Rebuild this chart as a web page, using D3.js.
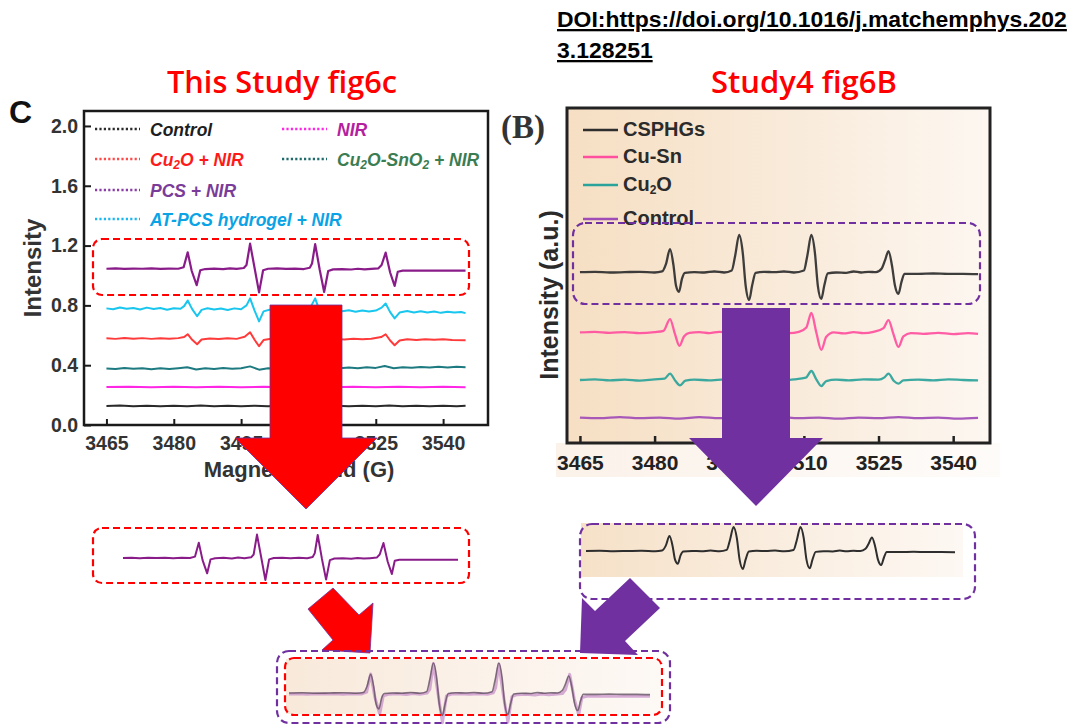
<!DOCTYPE html>
<html>
<head>
<meta charset="utf-8">
<script src="https://cdn.jsdelivr.net/npm/d3@7/dist/d3.min.js"></script>
<style>
  html, body { margin: 0; padding: 0; background: #ffffff; }
  svg { display: block; }
</style>
</head>
<body>
<svg id="chart" width="1080" height="726"></svg>
<script>
// ---------------- DATA ----------------
const fieldTicks = [3465, 3480, 3495, 3510, 3525, 3540];
const intensityTicks = [0, 0.4, 0.8, 1.2, 1.6, 2.0];

// Left panel (This Study fig6c) series: [field (G), intensity]
const controlA = [[3465,0.127],[3468,0.13],[3471,0.126],[3474,0.129],[3477,0.125],[3480,0.129],[3483,0.126],[3486,0.13],[3489,0.126],[3492,0.129],[3495,0.125],[3498,0.129],[3501,0.126],[3504,0.13],[3507,0.126],[3510,0.129],[3513,0.126],[3516,0.129],[3519,0.125],[3522,0.129],[3525,0.126],[3528,0.13],[3531,0.126],[3534,0.129],[3537,0.126],[3540,0.129],[3543,0.126],[3545,0.128]];
const nirA = [[3465,0.254],[3470,0.256],[3475,0.252],[3480,0.255],[3485,0.252],[3490,0.256],[3495,0.253],[3500,0.255],[3505,0.252],[3510,0.256],[3515,0.253],[3520,0.255],[3525,0.252],[3530,0.255],[3535,0.253],[3540,0.255],[3545,0.252]];
const cu2oSno2NirA = [[3465,0.378],[3467,0.374],[3469,0.381],[3471,0.376],[3473,0.38],[3475,0.373],[3477,0.379],[3479,0.375],[3481,0.38],[3483,0.386],[3485,0.371],[3487,0.379],[3489,0.375],[3491,0.381],[3493,0.376],[3495,0.38],[3497,0.392],[3499,0.37],[3501,0.38],[3503,0.377],[3505,0.382],[3507,0.378],[3509,0.383],[3511.5,0.393],[3513.5,0.374],[3515,0.383],[3517,0.379],[3519,0.385],[3521,0.38],[3523,0.386],[3525,0.382],[3527,0.394],[3529,0.379],[3531,0.387],[3533,0.383],[3535,0.388],[3537,0.384],[3539,0.389],[3541,0.385],[3543,0.389],[3545,0.387]];
const cu2oNirA = [[3465,0.58],[3467,0.576],[3469,0.582],[3471,0.577],[3473,0.581],[3475,0.576],[3477,0.58],[3479,0.577],[3481,0.581],[3482.3,0.588],[3483.1,0.607],[3484.1,0.57],[3485.2,0.54],[3486.2,0.572],[3488,0.579],[3490,0.575],[3492,0.58],[3494,0.576],[3495.8,0.59],[3497,0.62],[3498,0.57],[3499,0.527],[3500,0.568],[3502,0.578],[3504,0.574],[3506,0.579],[3508,0.575],[3510.4,0.59],[3511.5,0.618],[3512.5,0.57],[3513.5,0.53],[3514.5,0.566],[3516,0.576],[3518,0.572],[3520,0.577],[3522,0.573],[3524,0.577],[3526.2,0.588],[3527.2,0.607],[3528.2,0.565],[3529.2,0.533],[3530.3,0.565],[3532,0.573],[3534,0.569],[3536,0.574],[3538,0.57],[3540,0.573],[3542,0.568],[3545,0.567]];
const atPcsNirA = [[3465,0.78],[3466.5,0.774],[3468,0.786],[3469.5,0.777],[3471,0.783],[3472.5,0.772],[3474,0.785],[3475.5,0.776],[3477,0.782],[3478.5,0.771],[3480,0.781],[3481.5,0.777],[3482.3,0.795],[3483.1,0.833],[3484.1,0.775],[3485.2,0.727],[3486.2,0.77],[3487.5,0.781],[3489,0.772],[3490.5,0.779],[3492,0.769],[3493.5,0.78],[3495,0.774],[3496.2,0.8],[3497,0.847],[3498,0.765],[3499,0.693],[3500,0.76],[3501.5,0.772],[3503,0.764],[3504.5,0.775],[3506,0.766],[3507.5,0.772],[3509,0.765],[3510.5,0.79],[3511.5,0.847],[3512.5,0.76],[3513.5,0.7],[3514.5,0.755],[3516,0.768],[3517.5,0.76],[3519,0.767],[3520.5,0.758],[3522,0.766],[3523.5,0.759],[3525,0.765],[3526.3,0.785],[3527.2,0.813],[3528.2,0.755],[3529.2,0.713],[3530.3,0.752],[3532,0.762],[3533.5,0.753],[3535,0.761],[3536.5,0.752],[3538,0.759],[3539.5,0.75],[3541,0.758],[3542.5,0.753],[3544,0.756],[3545,0.748]];
const pcsNirA = [[3465,1.045],[3467,1.047],[3469,1.044],[3471,1.046],[3473,1.045],[3475,1.047],[3477,1.044],[3479,1.046],[3481,1.045],[3482.2,1.055],[3483.1,1.155],[3484,1.03],[3485.1,0.935],[3485.9,1.035],[3487,1.043],[3489,1.046],[3491,1.042],[3492.5,1.048],[3494,1.044],[3495.6,1.05],[3496.2,1.07],[3497,1.213],[3498,1.05],[3499,0.887],[3499.9,1.035],[3501,1.045],[3503,1.047],[3505,1.044],[3507,1.046],[3509,1.043],[3510.3,1.052],[3510.8,1.08],[3511.5,1.21],[3512.5,1.04],[3513.5,0.89],[3514.4,1.03],[3515.5,1.041],[3517.5,1.043],[3519.5,1.04],[3521,1.045],[3522.5,1.041],[3524,1.044],[3525.6,1.048],[3526.3,1.07],[3527.2,1.153],[3528.2,1.02],[3529.2,0.93],[3529.9,1.025],[3531,1.032],[3534,1.033],[3537,1.032],[3540,1.033],[3543,1.032],[3545,1.033]];

const leftNames = ["Control", "NIR", "Cu_2O + NIR", "Cu_2O-SnO_2 + NIR", "PCS + NIR", "AT-PCS hydrogel + NIR"];
const leftLineColors = ["#2a2a2a", "#ff26e6", "#ff3a3a", "#1d7a80", "#8a1c8a", "#18c6ee"];
const leftTextColors = ["#1e1e1e", "#b4209e", "#ff1a1a", "#3b7d52", "#7a3c98", "#0aa3e6"];
const leftLegendLine = ["#2a2a2a", "#ff26e6", "#ff4a4a", "#1f6a6a", "#8a3ca8", "#18b8f0"];

// Right panel (Study4 fig6B) series: [field (G), intensity a.u.]
const csphgsB = [[3465,0.51],[3468,0.511],[3471,0.509],[3474,0.51],[3477,0.511],[3480,0.509],[3481.5,0.512],[3482.3,0.535],[3483.1,0.579],[3483.8,0.53],[3484.3,0.47],[3484.9,0.451],[3485.5,0.49],[3486.1,0.508],[3488,0.51],[3490,0.509],[3492,0.512],[3494,0.509],[3495.5,0.515],[3496.2,0.56],[3497,0.621],[3497.7,0.57],[3498.3,0.47],[3499,0.427],[3499.6,0.47],[3500.3,0.508],[3502,0.511],[3504,0.51],[3506,0.512],[3508,0.509],[3510,0.515],[3510.7,0.56],[3511.5,0.621],[3512.2,0.57],[3512.8,0.47],[3513.5,0.43],[3514.1,0.47],[3514.8,0.506],[3516.5,0.509],[3518.5,0.508],[3520,0.512],[3521.5,0.509],[3523,0.511],[3524.5,0.51],[3525.6,0.52],[3526.3,0.545],[3527,0.573],[3527.7,0.53],[3528.3,0.47],[3529,0.445],[3529.6,0.48],[3530.2,0.505],[3533,0.505],[3536,0.506],[3539,0.505],[3542,0.505],[3545,0.504]];
const cuSnB = [[3465,0.33],[3468,0.332],[3471,0.329],[3474,0.331],[3477,0.328],[3480,0.331],[3481.8,0.335],[3483.1,0.37],[3484.1,0.325],[3485,0.29],[3485.9,0.318],[3487,0.329],[3489,0.331],[3491,0.328],[3493,0.332],[3495,0.33],[3496.2,0.35],[3497,0.385],[3498,0.33],[3499,0.28],[3500,0.318],[3501.5,0.33],[3503,0.328],[3505,0.331],[3507,0.328],[3509,0.332],[3510.5,0.345],[3511.5,0.388],[3512.5,0.33],[3513.5,0.278],[3514.5,0.317],[3516,0.33],[3518,0.327],[3520,0.331],[3522,0.328],[3524,0.332],[3526,0.343],[3527,0.367],[3528,0.325],[3529,0.287],[3530,0.318],[3531.5,0.328],[3534,0.326],[3537,0.329],[3540,0.325],[3543,0.328],[3545,0.326]];
const cu2oB = [[3465,0.188],[3468,0.19],[3471,0.187],[3474,0.189],[3477,0.186],[3480,0.19],[3482,0.192],[3483.1,0.207],[3484.2,0.185],[3485.1,0.172],[3486.2,0.186],[3488,0.189],[3491,0.187],[3494,0.19],[3496,0.193],[3497,0.21],[3498,0.188],[3499,0.173],[3500.2,0.186],[3502,0.189],[3505,0.187],[3508,0.19],[3510.4,0.195],[3511.5,0.215],[3512.5,0.19],[3513.5,0.17],[3514.5,0.185],[3516.5,0.189],[3519,0.187],[3522,0.19],[3525,0.189],[3526.2,0.196],[3527,0.207],[3528.1,0.185],[3529,0.177],[3530,0.187],[3533,0.189],[3536,0.187],[3539,0.19],[3542,0.188],[3545,0.187]];
const controlB = [[3465,0.076],[3469,0.074],[3473,0.077],[3477,0.074],[3481,0.076],[3485,0.073],[3489,0.077],[3493,0.074],[3497,0.076],[3501,0.074],[3505,0.077],[3509,0.074],[3513,0.076],[3517,0.073],[3521,0.076],[3525,0.074],[3529,0.077],[3533,0.074],[3537,0.076],[3541,0.073],[3545,0.075]];

const rightNames = ["CSPHGs", "Cu-Sn", "Cu_2O", "Control"];
const rightColors = ["#2e2e2e", "#ff4f9e", "#2aa39a", "#a04cb6"];

const titleLeft = "This Study fig6c";
const titleRight = "Study4 fig6B";
const doiLines = ["DOI:https://doi.org/10.1016/j.matchemphys.202", "3.128251"];

// ---------------- DRAW ----------------
const svg = d3.select("#chart");
const defs = svg.append("defs");

function beige(id, c0, c1, c2) {
  const g = defs.append("linearGradient").attr("id", id).attr("x1", 0).attr("x2", 1).attr("y1", 0).attr("y2", 0);
  g.append("stop").attr("offset", 0).attr("stop-color", c0);
  g.append("stop").attr("offset", 0.55).attr("stop-color", c1);
  g.append("stop").attr("offset", 1).attr("stop-color", c2);
}
beige("beigeMain", "#f6dfc3", "#f9ebdb", "#fdf7f1");
beige("beigeInset", "#f6e1c8", "#faeee1", "#fdf8f3");
beige("beigeCombo", "#f8e9da", "#fbf2ea", "#fdf9f5");

function fitText(sel, width) {
  const fs = parseFloat(sel.style("font-size"));
  const w = sel.node().getComputedTextLength();
  sel.style("font-size", (fs * width / w).toFixed(2) + "px");
}

function addLabel(sel, label, subSize) {
  const parts = label.split(/_(\d)/);
  parts.forEach((p, i) => {
    if (p === "") return;
    if (i % 2 === 1) {
      sel.append("tspan").text(p).attr("baseline-shift", "-22%").style("font-size", subSize);
    } else {
      sel.append("tspan").text(p);
    }
  });
}

// ---- titles & DOI ----
const tL = svg.append("text").attr("x", 282).attr("y", 93).attr("text-anchor", "middle")
  .style("font-family", "'Open Sans', 'Liberation Sans', sans-serif").style("font-weight", 600)
  .style("font-size", "28px").attr("fill", "#ff0000").text(titleLeft);
fitText(tL, 230);
const tR = svg.append("text").attr("x", 804).attr("y", 93).attr("text-anchor", "middle")
  .style("font-family", "'Open Sans', 'Liberation Sans', sans-serif").style("font-weight", 600)
  .style("font-size", "28px").attr("fill", "#ff0000").text(titleRight);
fitText(tR, 186);

const doi1 = svg.append("text").attr("x", 557).attr("y", 27)
  .style("font-family", "'Liberation Sans', Arial, sans-serif").style("font-weight", "bold")
  .style("font-size", "20px").style("text-decoration", "underline").attr("fill", "#000").text(doiLines[0]);
fitText(doi1, 510);
svg.append("text").attr("x", 557).attr("y", 58)
  .style("font-family", "'Liberation Sans', Arial, sans-serif").style("font-weight", "bold")
  .style("font-size", doi1.style("font-size")).style("text-decoration", "underline").attr("fill", "#000").text(doiLines[1]);

// ---- LEFT PANEL ----
const xL = d3.scaleLinear().domain([3460, 3550]).range([84, 488]);
const yL = d3.scaleLinear().domain([0, 2.1]).range([425, 111]);
const gL = svg.append("g");

gL.append("text").attr("x", 9).attr("y", 123).text("C")
  .style("font-family", "'Liberation Sans', Arial, sans-serif").style("font-weight", "bold").style("font-size", "32px").attr("fill", "#111");

const axB = gL.append("g").attr("transform", "translate(0,425)")
  .call(d3.axisBottom(xL).tickValues(fieldTicks).tickSizeInner(-6).tickSizeOuter(0).tickPadding(11).tickFormat(d3.format("d")));
const axLft = gL.append("g").attr("transform", "translate(84,0)")
  .call(d3.axisLeft(yL).tickValues(intensityTicks).tickSizeInner(-7).tickSizeOuter(0).tickPadding(6).tickFormat(d3.format(".1f")));
[axB, axLft].forEach(a => {
  a.select(".domain").remove();
  a.selectAll(".tick line").attr("stroke", "#1a1a1a").attr("stroke-width", 2);
  a.selectAll(".tick text").attr("fill", "#333").style("font-family", "'Liberation Sans', Arial, sans-serif")
    .style("font-weight", "bold").style("font-size", "19.5px");
});
gL.append("rect").attr("x", 84).attr("y", 111).attr("width", 404).attr("height", 314)
  .attr("fill", "none").attr("stroke", "#1a1a1a").attr("stroke-width", 2.5);

gL.append("text").attr("transform", "translate(41,268) rotate(-90)").attr("text-anchor", "middle")
  .style("font-family", "'Liberation Sans', Arial, sans-serif").style("font-weight", "bold").style("font-size", "24px")
  .attr("fill", "#333").text("Intensity");
gL.append("text").attr("x", 299).attr("y", 477).attr("text-anchor", "middle")
  .style("font-family", "'Liberation Sans', Arial, sans-serif").style("font-weight", "bold").style("font-size", "22px")
  .attr("fill", "#333").text("Magnetic Field (G)");

const leftData = [controlA, nirA, cu2oNirA, cu2oSno2NirA, pcsNirA, atPcsNirA];
const lineL = d3.line().x(d => xL(d[0])).y(d => yL(d[1]));
leftData.forEach((data, i) => {
  gL.append("path").datum(data).attr("d", lineL).attr("fill", "none")
    .attr("stroke", leftLineColors[i]).attr("stroke-width", i === 4 ? 2.2 : 2).attr("stroke-linejoin", "round");
});

// legend (2 columns, rows)
const legPos = [[0,0],[1,0],[0,1],[1,1],[0,2],[0,3]];
const legBase = [136, 166, 197, 226];
const legColX = [[95, 140, 150], [282, 327, 337]];
leftNames.forEach((name, i) => {
  const [c, r] = legPos[i];
  const yb = legBase[r];
  gL.append("line").attr("x1", legColX[c][0]).attr("x2", legColX[c][1]).attr("y1", yb - 7).attr("y2", yb - 7)
    .attr("stroke", leftLegendLine[i]).attr("stroke-width", 2.5).attr("stroke-dasharray", "2.2,2.2");
  const t = gL.append("text").attr("x", legColX[c][2]).attr("y", yb).attr("fill", leftTextColors[i])
    .style("font-family", "'Liberation Sans', Arial, sans-serif").style("font-style", "italic")
    .style("font-weight", "bold").style("font-size", "17.5px");
  addLabel(t, name, "12px");
});

// ---- RIGHT PANEL ----
const xR = d3.scaleLinear().domain([3462.4, 3547.4]).range([567, 990]);
const yR = d3.scaleLinear().domain([0, 1]).range([443, 108]);
const gR = svg.append("g");

gR.append("rect").attr("x", 567).attr("y", 108).attr("width", 423).attr("height", 335).attr("fill", "url(#beigeMain)");
gR.append("rect").attr("x", 556).attr("y", 443).attr("width", 444).attr("height", 34).attr("fill", "url(#beigeCombo)").attr("opacity", 0.6);

gR.append("text").attr("x", 501).attr("y", 138).text("(B)")
  .style("font-family", "'Liberation Serif', 'Times New Roman', serif").style("font-weight", "bold").style("font-size", "33px").attr("fill", "#333");

const axRB = gR.append("g").attr("transform", "translate(0,443)")
  .call(d3.axisBottom(xR).tickValues(fieldTicks).tickSizeInner(-7).tickSizeOuter(0).tickPadding(12).tickFormat(d3.format("d")));
axRB.select(".domain").remove();
axRB.selectAll(".tick line").attr("stroke", "#222").attr("stroke-width", 2.5);
axRB.selectAll(".tick text").attr("fill", "#222").style("font-family", "'Liberation Sans', Arial, sans-serif")
  .style("font-weight", "bold").style("font-size", "21px");

gR.append("rect").attr("x", 567).attr("y", 108).attr("width", 423).attr("height", 335)
  .attr("fill", "none").attr("stroke", "#222").attr("stroke-width", 3);

gR.append("text").attr("transform", "translate(558,295) rotate(-90)").attr("text-anchor", "middle")
  .style("font-family", "'Liberation Sans', Arial, sans-serif").style("font-weight", "bold").style("font-size", "25px")
  .attr("fill", "#2a2a2a").text("Intensity (a.u.)");

const rightData = [csphgsB, cuSnB, cu2oB, controlB];
const lineR = d3.line().x(d => xR(d[0])).y(d => yR(d[1])).curve(d3.curveMonotoneX);
rightData.forEach((data, i) => {
  gR.append("path").datum(data).attr("d", lineR).attr("fill", "none")
    .attr("stroke", rightColors[i]).attr("stroke-width", 2.3).attr("stroke-linejoin", "round").attr("opacity", 0.92);
});

const rLegBase = [136, 163, 191, 225];
rightNames.forEach((name, i) => {
  const yb = rLegBase[i];
  gR.append("line").attr("x1", 583).attr("x2", 618).attr("y1", yb - 6).attr("y2", yb - 6)
    .attr("stroke", rightColors[i]).attr("stroke-width", 2.5);
  const t = gR.append("text").attr("x", 623).attr("y", yb).attr("fill", "#2b2b2b")
    .style("font-family", "'Liberation Sans', Arial, sans-serif").style("font-weight", "bold").style("font-size", "20px");
  addLabel(t, name, "12px");
});

// ---- INSETS (bottom) ----
const xI1 = d3.scaleLinear().domain([3465, 3545]).range([123, 458]);
const yI1 = d3.scaleLinear().domain([1.045, 1.21]).range([558, 535]);
svg.append("path").datum(pcsNirA).attr("d", d3.line().x(d => xI1(d[0])).y(d => yI1(d[1])))
  .attr("fill", "none").attr("stroke", "#8a1c8a").attr("stroke-width", 2).attr("stroke-linejoin", "round");

svg.append("rect").attr("x", 581).attr("y", 523).attr("width", 382).attr("height", 54).attr("fill", "url(#beigeInset)");
const xI2 = d3.scaleLinear().domain([3465, 3545]).range([586, 955]);
const yI2 = d3.scaleLinear().domain([0.51, 0.621]).range([551, 527]);
svg.append("path").datum(csphgsB).attr("d", d3.line().x(d => xI2(d[0])).y(d => yI2(d[1])).curve(d3.curveMonotoneX))
  .attr("fill", "none").attr("stroke", "#2e2e2e").attr("stroke-width", 2).attr("stroke-linejoin", "round");

svg.append("rect").attr("x", 286).attr("y", 659).attr("width", 375).attr("height", 55).attr("fill", "url(#beigeCombo)");
const xI3 = d3.scaleLinear().domain([3465, 3545]).range([289, 650]);
const yI3a = d3.scaleLinear().domain([1.045, 1.21]).range([694, 664]);
const yI3b = d3.scaleLinear().domain([0.51, 0.621]).range([693, 663]);
svg.append("path").datum(pcsNirA).attr("d", d3.line().x(d => xI3(d[0])).y(d => yI3a(d[1])))
  .attr("fill", "none").attr("stroke", "#c58ac8").attr("stroke-width", 3).attr("opacity", 0.7).attr("stroke-linejoin", "round");
svg.append("path").datum(csphgsB).attr("d", d3.line().x(d => xI3(d[0])).y(d => yI3b(d[1])).curve(d3.curveMonotoneX))
  .attr("fill", "none").attr("stroke", "#5a4a5a").attr("stroke-width", 1.6).attr("opacity", 0.75).attr("stroke-linejoin", "round");

// ---- ARROWS ----
const poly = pts => "M" + pts.map(p => p.join(",")).join("L") + "Z";
svg.append("path").attr("d", poly([[270,305],[342,305],[342,438],[377,438],[306,509],[235,438],[270,438]]))
  .attr("fill", "#ff0000").attr("stroke", "#7030a0").attr("stroke-width", 0.8);
svg.append("path").attr("d", poly([[722,308],[790,308],[790,438],[823,438],[756,506],[689,438],[722,438]]))
  .attr("fill", "#7030a0");
svg.append("path").attr("d", poly([[308,609],[333,588],[359,615],[373,603],[370,653],[322,650],[333,640]]))
  .attr("fill", "#ff0000").attr("stroke", "#7030a0").attr("stroke-width", 0.8);
svg.append("path").attr("d", poly([[630,578],[660,608],[625,641],[638,655],[580,653],[582,598],[595,611]]))
  .attr("fill", "#7030a0");

// ---- DASHED BOXES ----
function dashBox(x, y, w, h, r, color) {
  svg.append("rect").attr("x", x).attr("y", y).attr("width", w).attr("height", h).attr("rx", r).attr("ry", r)
    .attr("fill", "none").attr("stroke", color).attr("stroke-width", 2.2).attr("stroke-dasharray", "7,4");
}
dashBox(93, 239, 376, 56, 9, "#ff0000");
dashBox(573, 223, 407, 81, 12, "#7030a0");
dashBox(93, 528, 376, 55, 9, "#ff0000");
dashBox(580, 524, 395, 75, 12, "#7030a0");
dashBox(277, 651, 393, 72, 12, "#7030a0");
dashBox(285, 658, 377, 57, 9, "#ff0000");
</script>
</body>
</html>
